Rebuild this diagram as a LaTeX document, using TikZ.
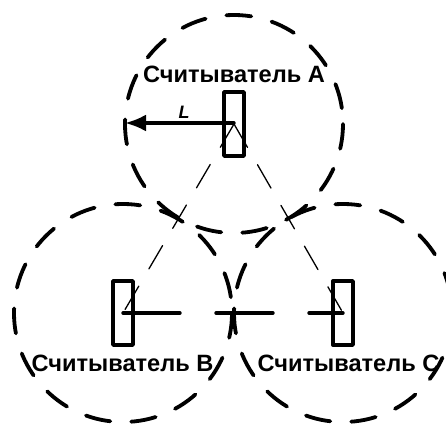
\documentclass[tikz,border=0pt]{standalone}
\usepackage{fontspec}
\setmainfont{Liberation Sans}
\usetikzlibrary{arrows.meta}

\begin{document}
\begin{tikzpicture}[x=1pt, y=-1pt, >=latex, line cap=round, line join=round]

% --- Styles ---
\tikzset{
    zone/.style={
        draw=black,
        line width=3.8pt,
        dash pattern=on 25pt off 21pt
    },
    reader/.style={
        draw=black,
        line width=3.4pt,
        minimum width=20pt,
        minimum height=64pt,
        inner sep=0pt
    },
    link/.style={
        draw=black,
        line width=1.3pt,
        dash pattern=on 27pt off 20pt
    },
    linkthick/.style={
        draw=black,
        line width=3.4pt,
        dash pattern=on 57pt off 36pt
    },
    readrange/.style={
        draw=black,
        line width=3.4pt,
        -{Latex[length=21pt, width=17pt]}
    },
    readerlabel/.style={
        font=\bfseries\fontsize{23.6}{28}\selectfont,
        inner sep=0pt
    }
}

\useasboundingbox (0,0) rectangle (446,425);

% --- Radius of the reading zones ---
\pgfmathsetmacro{\R}{109}

% --- Readers ---
\node[reader] (readerA) at (234,124) {};
\node[reader] (readerB) at (123,313) {};
\node[reader] (readerC) at (343,313) {};

% --- Reading zones ---
\draw[zone] (readerA.center) circle (\R);
\draw[zone] (readerB.center) circle (\R);
\draw[zone] (readerC.center) circle (\R);

% --- Links between readers ---
\draw[link] (readerA.center) -- (readerB.center);
\draw[link] (readerA.center) -- (readerC.center);
\draw[linkthick] (readerB.center) -- (readerC.center);

% --- Read range L ---
\coordinate (edgeA) at ({234-\R},123);
\draw[readrange] (readerA.center |- edgeA) -- (edgeA);
\node[font=\bfseries\itshape\fontsize{18}{22}\selectfont, inner sep=0pt] (labelL) at (184,112) {L};

% --- Labels ---
\node[readerlabel] (labelA) at (234,74) {Считыватель A};
\node[readerlabel] (labelB) at (122.5,363) {Считыватель B};
\node[readerlabel] (labelC) at (348.5,363) {Считыватель C};

\end{tikzpicture}
\end{document}
